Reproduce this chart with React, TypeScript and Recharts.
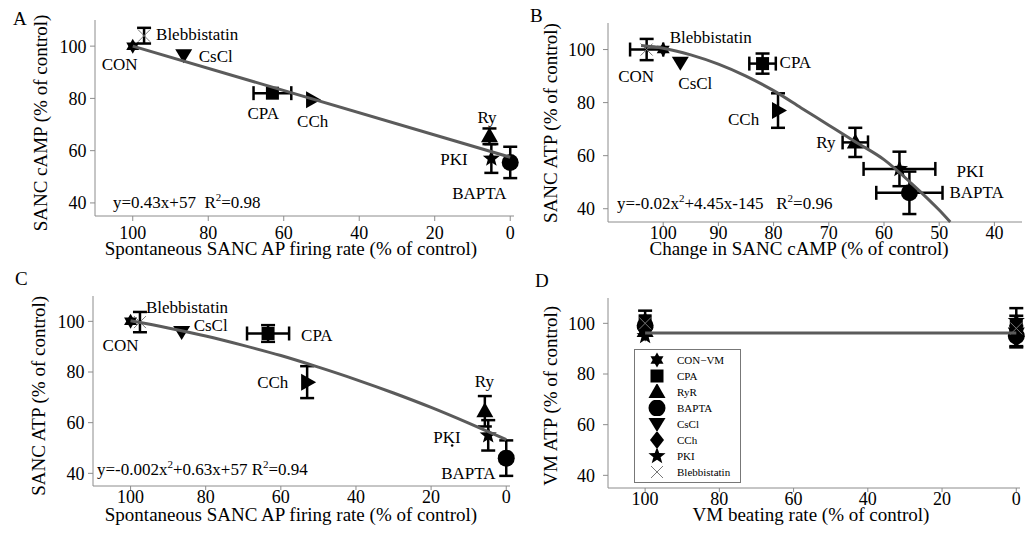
import React from "react";
import { ScatterChart, Scatter, XAxis, YAxis, ErrorBar, Legend } from "recharts";

const FONT = '"Liberation Serif", "DejaVu Serif", serif';
const INK = "#000";
const AXIS = "#8c8c8c";
const FIT = "#5b5b5b";

const rateTicks = [100, 80, 60, 40, 20, 0];
const campTicks = [100, 90, 80, 70, 60, 50, 40];
const pctTicks = [40, 60, 80, 100];

// A: firing rate vs SANC cAMP
const pointsA = [
  { name: "CON", x: 100, y: 100 },
  { name: "Blebbistatin", x: 97, y: 104, ey: 3 },
  { name: "CsCl", x: 86.5, y: 96.5 },
  { name: "CPA", x: 63, y: 82, ex: 5 },
  { name: "CCh", x: 52.5, y: 79.5 },
  { name: "Ry", x: 5.5, y: 65.5, ey: 3 },
  { name: "PKI", x: 5, y: 57, ey: 5.5 },
  { name: "BAPTA", x: 0, y: 55.5, ey: 6 },
];
const fitA = [
  { x: 100, y: 100 },
  { x: 0, y: 57.5 },
];

// B: cAMP vs SANC ATP
const pointsB = [
  { name: "CON", x: 100, y: 100 },
  { name: "Blebbistatin", x: 103, y: 100, ex: 3, ey: 4 },
  { name: "CsCl", x: 96.9, y: 95 },
  { name: "CPA", x: 82, y: 94.7, ex: 2.4, ey: 3.8 },
  { name: "CCh", x: 79.2, y: 77, ey: 6.5 },
  { name: "Ry", x: 65.2, y: 65, ex: 2.3, ey: 5.5 },
  { name: "PKI", x: 57.2, y: 55, ex: 6.5, ey: 6.5 },
  { name: "BAPTA", x: 55.4, y: 46, ex: 6, ey: 8 },
];
const fitB = [
  { x: 104, y: 101.5 },
  { x: 100, y: 100.5 },
  { x: 95, y: 98 },
  { x: 90, y: 94.5 },
  { x: 85, y: 90 },
  { x: 80, y: 84.5 },
  { x: 75, y: 78 },
  { x: 70, y: 71.5 },
  { x: 65, y: 65 },
  { x: 60, y: 58.5 },
  { x: 55, y: 49.5 },
  { x: 50, y: 39.5 },
  { x: 48, y: 35 },
];

// C: firing rate vs SANC ATP
const pointsC = [
  { name: "CON", x: 100, y: 100 },
  { name: "Blebbistatin", x: 97.5, y: 99.7, ey: 4 },
  { name: "CsCl", x: 86.4, y: 95.8 },
  { name: "CPA", x: 63.4, y: 95.2, ex: 5.6, ey: 3.3 },
  { name: "CCh", x: 53, y: 76, ey: 6.3 },
  { name: "Ry", x: 5.7, y: 64.5, ey: 6 },
  { name: "PKI", x: 4.8, y: 55, ey: 6 },
  { name: "BAPTA", x: 0, y: 46, ey: 7 },
  { name: "dot", x: 14.4, y: 51 },
];
const fitC = [
  { x: 100, y: 100.2 },
  { x: 90, y: 97.4 },
  { x: 80, y: 94.2 },
  { x: 70, y: 90.5 },
  { x: 60, y: 86.5 },
  { x: 50, y: 81.9 },
  { x: 40, y: 77 },
  { x: 30, y: 71.7 },
  { x: 20, y: 66 },
  { x: 10, y: 59.8 },
  { x: 0, y: 53.3 },
];

// D: VM beating rate vs VM ATP
const pointsD = [
  { name: "CON−VM", x: 100, y: 101.5, ey: 3.5 },
  { name: "CPA", x: 100, y: 101 },
  { name: "RyR", x: 100, y: 97 },
  { name: "BAPTA", x: 100, y: 99 },
  { name: "CsCl", x: 100, y: 96 },
  { name: "CCh", x: 100, y: 99 },
  { name: "PKI", x: 100, y: 95 },
  { name: "Blebbistatin", x: 100, y: 100 },
  { name: "CPA", x: 0, y: 99, ey: 4 },
  { name: "RyR", x: 0, y: 97 },
  { name: "BAPTA", x: 0, y: 95, ey: 4 },
  { name: "CsCl", x: 0, y: 96 },
  { name: "CCh", x: 0, y: 94, ey: 3.5 },
  { name: "PKI", x: 0, y: 101, ey: 5 },
  { name: "Blebbistatin", x: 0, y: 98 },
];
const fitD = [
  { x: 100, y: 96.2 },
  { x: 0, y: 96.2 },
];
const legendD = ["CON−VM", "CPA", "RyR", "BAPTA", "CsCl", "CCh", "PKI", "Blebbistatin"];

const markerABC: Record<string, string> = {
  CON: "star6",
  Blebbistatin: "cross",
  CsCl: "triDown",
  CPA: "square",
  CCh: "triRight",
  Ry: "triUp",
  PKI: "star5",
  BAPTA: "circle",
  dot: "dot",
};
const markerD: Record<string, string> = {
  "CON−VM": "star6",
  CPA: "square",
  RyR: "triUp",
  BAPTA: "circle",
  CsCl: "triDown",
  CCh: "diamond",
  PKI: "star5",
  Blebbistatin: "cross",
};

// label offsets (px) from the marker centre: left edge, vertical middle
const labelsA: Record<string, [number, number]> = {
  CON: [-31, 18],
  Blebbistatin: [12, -2],
  CsCl: [15, 1],
  CPA: [-25, 20],
  CCh: [-15, 21],
  Ry: [-12, -19],
  PKI: [-51, 1],
  BAPTA: [-58, 31],
};
const labelsB: Record<string, [number, number]> = {
  CON: [-45, 27],
  Blebbistatin: [23, -12],
  CsCl: [-2, 20],
  CPA: [17, -2],
  CCh: [-50, 8],
  Ry: [-39, 0],
  PKI: [57, 2],
  BAPTA: [40, -1],
};
const labelsC: Record<string, [number, number]> = {
  CON: [-28, 24],
  Blebbistatin: [6, -15],
  CsCl: [12, -7],
  CPA: [33, 2],
  CCh: [-50, 0],
  Ry: [-10, -30],
  PKI: [-55, 2],
  BAPTA: [-65, 15],
};

const pts = (a: number[][]) => a.map((p) => p.join(",")).join(" ");
const rad = (d: number) => (d * Math.PI) / 180;

function Marker({ kind, cx, cy }: { kind: string; cx: number; cy: number }) {
  switch (kind) {
    case "star6": {
      const r = 7.5;
      const up = [-90, 30, 150].map((a) => [cx + r * Math.cos(rad(a)), cy + r * Math.sin(rad(a))]);
      const dn = [90, 210, 330].map((a) => [cx + r * Math.cos(rad(a)), cy + r * Math.sin(rad(a))]);
      return (
        <g fill="#000">
          <polygon points={pts(up)} />
          <polygon points={pts(dn)} />
        </g>
      );
    }
    case "square":
      return <rect x={cx - 6.5} y={cy - 6.5} width={13} height={13} fill="#000" />;
    case "triUp":
      return <polygon points={pts([[cx, cy - 9], [cx + 8.5, cy + 6], [cx - 8.5, cy + 6]])} fill="#000" />;
    case "triDown":
      return <polygon points={pts([[cx - 8.5, cy - 6], [cx + 8.5, cy - 6], [cx, cy + 8]])} fill="#000" />;
    case "triRight":
      return <polygon points={pts([[cx - 6, cy - 8.5], [cx + 9, cy], [cx - 6, cy + 8.5]])} fill="#000" />;
    case "circle":
      return <circle cx={cx} cy={cy} r={8.5} fill="#000" />;
    case "diamond":
      return <polygon points={pts([[cx, cy - 9], [cx + 7, cy], [cx, cy + 9], [cx - 7, cy]])} fill="#000" />;
    case "star5": {
      const p: number[][] = [];
      for (let i = 0; i < 10; i++) {
        const r = i % 2 === 0 ? 9 : 3.8;
        const a = rad(-90 + i * 36);
        p.push([cx + r * Math.cos(a), cy + r * Math.sin(a)]);
      }
      return <polygon points={pts(p)} fill="#000" />;
    }
    case "cross":
      return (
        <g stroke="#777" strokeWidth={1}>
          <line x1={cx - 6} y1={cy - 6} x2={cx + 6} y2={cy + 6} />
          <line x1={cx - 6} y1={cy + 6} x2={cx + 6} y2={cy - 6} />
        </g>
      );
    case "dot":
      return <circle cx={cx} cy={cy} r={1.3} fill="#000" />;
    default:
      return null;
  }
}

const pointShape =
  (markers: Record<string, string>, labels: Record<string, [number, number]>) => (p: any) => {
    const name = p.payload?.name;
    const off = labels[name];
    return (
      <g>
        <Marker kind={markers[name]} cx={p.cx} cy={p.cy} />
        {off && (
          <text x={p.cx + off[0]} y={p.cy + off[1]} dy="0.35em" fontSize={17} fontFamily={FONT} fill={INK}>
            {name}
          </text>
        )}
      </g>
    );
  };

const noShape = () => <g />;

function XTitle({ text, px, py }: any) {
  return (
    <text x={px} y={py} textAnchor="middle" fontSize={19} fontFamily={FONT} fill={INK}>
      {text}
    </text>
  );
}

function YTitle({ text, px, py }: any) {
  return (
    <text
      x={px}
      y={py}
      transform={`rotate(-90 ${px} ${py})`}
      textAnchor="middle"
      fontSize={19}
      fontFamily={FONT}
      fill={INK}
    >
      {text}
    </text>
  );
}

function LegendBox() {
  return (
    <div
      style={{
        border: "1px solid #777",
        background: "#fff",
        width: 105,
        padding: "2px 0",
        fontFamily: FONT,
        fontSize: 11,
        color: INK,
      }}
    >
      {legendD.map((n) => (
        <div key={n} style={{ display: "flex", alignItems: "center", height: 16 }}>
          <svg width={36} height={16} style={{ display: "block" }}>
            <Marker kind={markerD[n]} cx={22} cy={8} />
          </svg>
          <span style={{ marginLeft: 6 }}>{n}</span>
        </div>
      ))}
    </div>
  );
}

function Panel(props: any) {
  const {
    left, top, width, height, margin, yWidth, xHeight, xDomain, xTicks, xTickSize,
    xTickMargin, yTickMargin, points, fit, markers, labels, xTitle, yTitle, legend,
  } = props;
  const tick = { fill: INK, fontSize: 18, fontFamily: FONT };
  return (
    <div style={{ position: "absolute", left, top }}>
      <ScatterChart width={width} height={height} margin={margin}>
        <XAxis
          type="number"
          dataKey="x"
          domain={xDomain}
          reversed
          ticks={xTicks}
          interval={0}
          height={xHeight}
          stroke={AXIS}
          tickSize={xTickSize}
          tickMargin={xTickMargin}
          tick={tick}
          label={<XTitle text={xTitle[0]} px={xTitle[1]} py={xTitle[2]} />}
        />
        <YAxis
          type="number"
          dataKey="y"
          domain={[35, 110]}
          ticks={pctTicks}
          interval={0}
          width={yWidth}
          stroke={AXIS}
          tickSize={5}
          tickMargin={yTickMargin}
          tick={tick}
          label={<YTitle text={yTitle[0]} px={yTitle[1]} py={yTitle[2]} />}
        />
        <Scatter data={points} shape={pointShape(markers, labels)} isAnimationActive={false}>
          <ErrorBar dataKey="ey" direction="y" width={7} stroke="#000" strokeWidth={2.5} />
          <ErrorBar dataKey="ex" direction="x" width={7} stroke="#000" strokeWidth={2.5} />
        </Scatter>
        <Scatter
          data={fit}
          line={{ stroke: FIT, strokeWidth: 3 }}
          lineJointType="monotoneX"
          shape={noShape}
          isAnimationActive={false}
        />
        {legend && (
          <Legend
            layout="vertical"
            align="center"
            verticalAlign="middle"
            wrapperStyle={{ left: 124, top: 84, width: 107 }}
            content={() => <LegendBox />}
          />
        )}
      </ScatterChart>
    </div>
  );
}

const sup = (s: string) => (
  <span style={{ fontSize: 11, position: "relative", top: -7 }}>{s}</span>
);

const eqStyle = (left: number, top: number): React.CSSProperties => ({
  position: "absolute",
  left,
  top,
  fontSize: 17,
  lineHeight: "17px",
  whiteSpace: "pre",
  fontFamily: FONT,
  color: INK,
});

const letter = (left: number, top: number, s: string) => (
  <div style={{ position: "absolute", left, top, fontSize: 19, lineHeight: "19px", fontFamily: FONT, color: INK }}>
    {s}
  </div>
);

export default function App() {
  return (
    <div style={{ position: "absolute", left: 0, top: 0, width: 1025, height: 535, background: "#fff", overflow: "hidden" }}>
      <Panel
        left={0}
        top={0}
        width={520}
        height={265}
        margin={{ top: 20, right: 6, bottom: 4, left: 20 }}
        yWidth={75}
        xHeight={45}
        xDomain={[-1, 110]}
        xTicks={rateTicks}
        xTickSize={5}
        xTickMargin={5}
        yTickMargin={3.5}
        points={pointsA}
        fit={fitA}
        markers={markerABC}
        labels={labelsA}
        xTitle={["Spontaneous SANC AP firing rate (% of control)", 291, 255]}
        yTitle={["SANC cAMP (% of control)", 46.5, 123]}
      />
      <Panel
        left={510}
        top={0}
        width={515}
        height={265}
        margin={{ top: 23, right: 3, bottom: 3, left: 22 }}
        yWidth={76}
        xHeight={40}
        xDomain={[35, 110]}
        xTicks={campTicks}
        xTickSize={4}
        xTickMargin={0}
        yTickMargin={8}
        points={pointsB}
        fit={fitB}
        markers={markerABC}
        labels={labelsB}
        xTitle={["Change in SANC cAMP (% of control)", 289, 255]}
        yTitle={["SANC ATP (% of control)", 46.7, 123]}
      />
      <Panel
        left={0}
        top={265}
        width={520}
        height={270}
        margin={{ top: 31, right: 10, bottom: 4, left: 20 }}
        yWidth={73}
        xHeight={45}
        xDomain={[-1, 110]}
        xTicks={rateTicks}
        xTickSize={4}
        xTickMargin={0}
        yTickMargin={3.5}
        points={pointsC}
        fit={fitC}
        markers={markerABC}
        labels={labelsC}
        xTitle={["Spontaneous SANC AP firing rate (% of control)", 291, 256]}
        yTitle={["SANC ATP (% of control)", 45, 130.8]}
      />
      <Panel
        left={510}
        top={265}
        width={515}
        height={270}
        margin={{ top: 33, right: 5, bottom: 5, left: 22 }}
        yWidth={76}
        xHeight={42}
        xDomain={[-1, 110]}
        xTicks={rateTicks}
        xTickSize={4}
        xTickMargin={0}
        yTickMargin={8}
        points={pointsD}
        fit={fitD}
        markers={markerD}
        labels={{}}
        xTitle={["VM beating rate (% of control)", 301, 256]}
        yTitle={["VM ATP (% of control)", 46.7, 130.8]}
        legend
      />
      {letter(13, 9, "A")}
      {letter(530, 6, "B")}
      {letter(15, 269, "C")}
      {letter(535, 271, "D")}
      <div style={eqStyle(113, 194)}>
        {"y=0.43x+57  R"}
        {sup("2")}
        {"=0.98"}
      </div>
      <div style={eqStyle(617, 195)}>
        {"y=-0.02x"}
        {sup("2")}
        {"+4.45x-145   R"}
        {sup("2")}
        {"=0.96"}
      </div>
      <div style={eqStyle(97, 461)}>
        {"y=-0.002x"}
        {sup("2")}
        {"+0.63x+57 R"}
        {sup("2")}
        {"=0.94"}
      </div>
    </div>
  );
}
